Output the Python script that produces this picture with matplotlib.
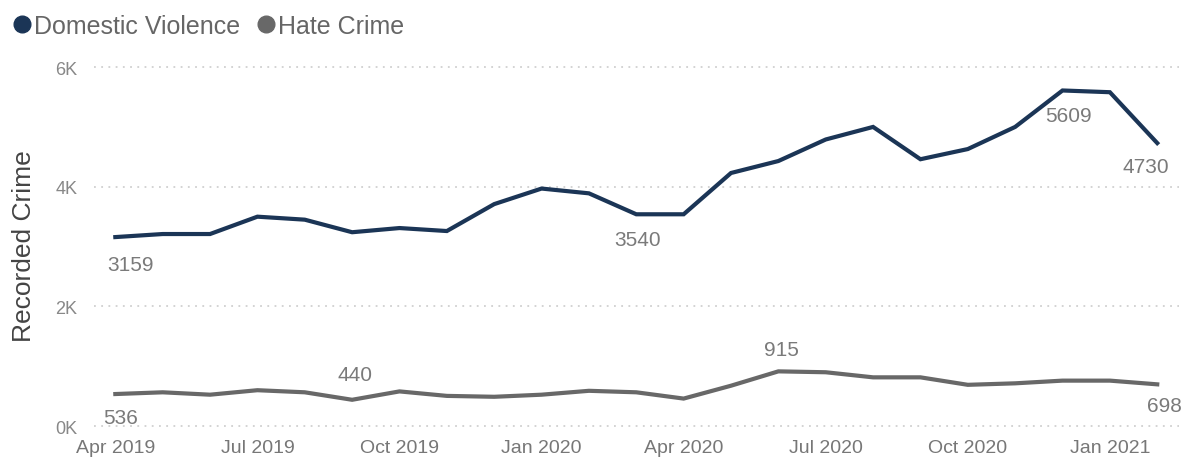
import numpy as np
import matplotlib
matplotlib.use("Agg")
import matplotlib.pyplot as plt
from matplotlib.lines import Line2D

months = ["Apr 2019", "May 2019", "Jun 2019", "Jul 2019", "Aug 2019", "Sep 2019",
          "Oct 2019", "Nov 2019", "Dec 2019", "Jan 2020", "Feb 2020", "Mar 2020",
          "Apr 2020", "May 2020", "Jun 2020", "Jul 2020", "Aug 2020", "Sep 2020",
          "Oct 2020", "Nov 2020", "Dec 2020", "Jan 2021", "Feb 2021"]
domestic = [3159, 3210, 3210, 3500, 3450, 3240, 3310, 3260, 3710, 3970, 3890, 3540,
            3540, 4230, 4430, 4790, 5000, 4460, 4630, 5000, 5609, 5580, 4730]
hate = [536, 565, 525, 600, 565, 440, 580, 505, 490, 525, 590, 565,
        460, 675, 915, 900, 815, 815, 690, 715, 760, 760, 698]
tick_months = ["Apr 2019", "Jul 2019", "Oct 2019", "Jan 2020", "Apr 2020",
               "Jul 2020", "Oct 2020", "Jan 2021"]
y_ticks = [0, 2000, 4000, 6000]
y_ticklabels = ["0K", "2K", "4K", "6K"]

DV_COL = "#1b3556"
HC_COL = "#686868"
plt.rcParams["font.family"] = ["Liberation Sans", "DejaVu Sans"]

fig = plt.figure(figsize=(11.84, 4.6), dpi=100)
ax = fig.add_axes([0.0794, 0.065, 0.916, 0.80])
x = np.arange(len(months))
ax.plot(x, domestic, color=DV_COL, lw=3.0, solid_joinstyle="miter")
ax.plot(x, hate, color=HC_COL, lw=3.0, solid_joinstyle="miter")

# data labels: (series, index, dx, dy) in points
labels = [(domestic, 0, 11, -20), (domestic, 11, 1, -18), (domestic, 20, 4, -18),
          (domestic, 22, -8, -17), (hate, 0, 4, -17), (hate, 5, 2, 18),
          (hate, 14, 2, 16), (hate, 22, 5, -15)]
for s, i, dx, dy in labels:
    ax.annotate(str(s[i]), (x[i], s[i]), xytext=(dx, dy), textcoords="offset points",
                ha="center", va="center", fontsize=15, color="#7a7a7a")

ax.set_xlim(-0.45, 22.45)
ax.set_ylim(-50, 6100)
ax.set_xticks([months.index(m) for m in tick_months])
ax.set_xticklabels(tick_months, fontsize=14, color="#777777")
ax.set_yticks(y_ticks)
ax.set_yticklabels(y_ticklabels, fontsize=13, color="#888888")
ax.tick_params(length=0)
ax.tick_params(axis="x", pad=7)
ax.tick_params(axis="y", pad=12)
ax.grid(axis="y", color="#d0d0d0", lw=1.3, linestyle=(0, (1, 3)))
ax.set_axisbelow(True)
for sp in ax.spines.values():
    sp.set_visible(False)
ax.set_ylabel("Recorded Crime", fontsize=19, color="#444444", labelpad=14)

handles = [Line2D([], [], marker="o", ls="", color=DV_COL, markersize=12),
           Line2D([], [], marker="o", ls="", color=HC_COL, markersize=12)]
fig.legend(handles, ["Domestic Violence", "Hate Crime"], loc="upper left",
           bbox_to_anchor=(-0.011, 1.016), ncol=2, frameon=False, fontsize=18,
           handletextpad=0.0, columnspacing=0.5, handlelength=1.0, labelcolor="#666666")

fig.savefig("out.png", dpi=100)
